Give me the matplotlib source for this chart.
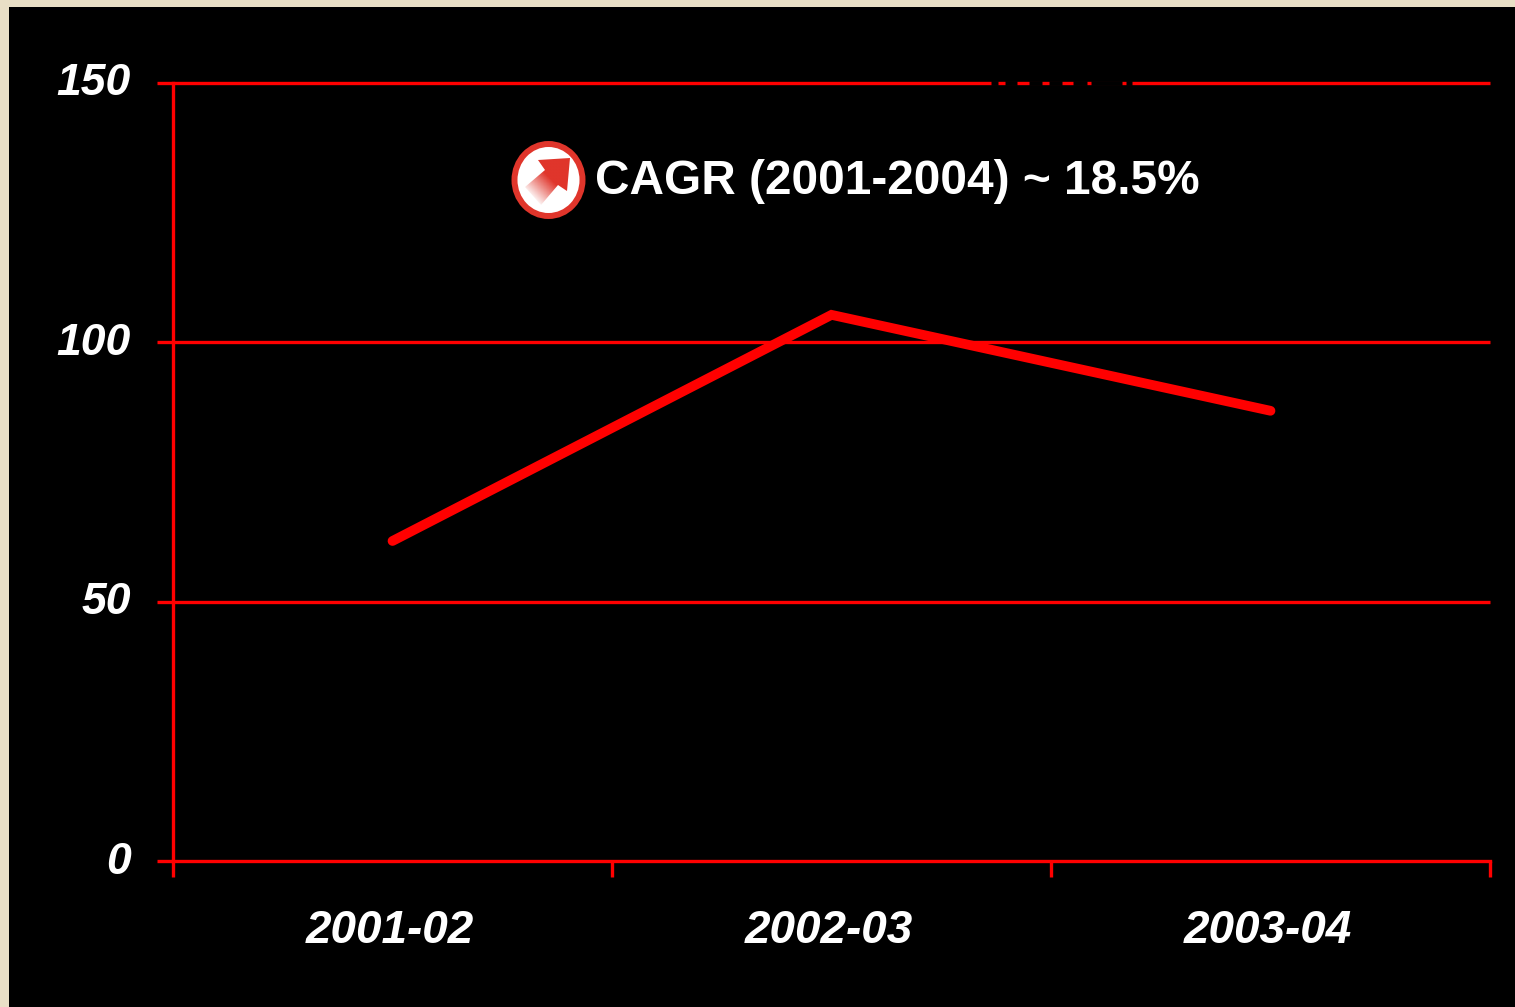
#!/usr/bin/env python3
import numpy as np
import matplotlib
matplotlib.use("Agg")
import matplotlib.pyplot as plt
from matplotlib.patches import Ellipse, Polygon, Rectangle

years = ["2001-02", "2002-03", "2003-04"]
sales = [61.7, 105.3, 86.8]
y_ticks = [0, 50, 100, 150]
note = "CAGR (2001-2004) ~ 18.5%"

W, H = 1515, 1007
RED = "#ff0000"
ICON_RED = "#e0352b"

plt.rcParams["font.family"] = ["Liberation Sans", "DejaVu Sans"]

fig = plt.figure(figsize=(W / 100, H / 100), dpi=100, facecolor="#e9dfc6")

# everything that is not the chart lives on this overlay, in image pixels
bg = fig.add_axes([0, 0, 1, 1], zorder=0)
bg.set_xlim(0, W)
bg.set_ylim(H, 0)
bg.axis("off")
bg.add_patch(Rectangle((9, 7), W - 9, H - 7, color="black", lw=0))

left, right, top, bottom = 173, 1490, 83, 861
ax = fig.add_axes([left / W, 1 - bottom / H, (right - left) / W, (bottom - top) / H], zorder=1)
ax.patch.set_alpha(0)
ax.set_xlim(0, 3)
ax.set_ylim(0, 150)

for s in ["top", "right"]:
    ax.spines[s].set_visible(False)
for s in ["left", "bottom"]:
    ax.spines[s].set_color(RED)
    ax.spines[s].set_linewidth(2.4)

ax.set_yticks(y_ticks)
ax.set_yticklabels([])
ax.set_xticks([0, 1, 2, 3])
ax.set_xticklabels([])
ax.tick_params(axis="both", color=RED, width=2.4, length=11.5)

for v in y_ticks[1:]:
    ax.plot([0, 3], [v, v], color=RED, lw=2.4, solid_capstyle="butt", zorder=1, clip_on=False)
for v in y_ticks:
    ax.annotate(str(v), (0, v), xytext=(-42, -1), textcoords="offset pixels", ha="right", va="center",
                fontsize=32, fontweight="bold", fontstyle="italic", color="white", annotation_clip=False)

x = np.arange(len(years)) + 0.5
ax.plot(x, sales, color=RED, lw=7, solid_capstyle="round", solid_joinstyle="miter", zorder=3)
for xi, name in zip(x, years):
    ax.annotate(name, (xi, 0), xytext=(-3, -70), textcoords="offset pixels", ha="center", va="center",
                fontsize=33, fontweight="bold", fontstyle="italic", color="white", annotation_clip=False)

# broken stretch of the top gridline
for x0, x1 in [(991, 998), (1005, 1017), (1029, 1042), (1049, 1062), (1073, 1087), (1091, 1122), (1126, 1132)]:
    ax.plot([(x0 - left) / (right - left) * 3, (x1 - left) / (right - left) * 3], [150, 150],
            color="black", lw=3.4, solid_capstyle="butt", zorder=2, clip_on=False)

# icon
ov = fig.add_axes([0, 0, 1, 1], zorder=2)
ov.set_xlim(0, W)
ov.set_ylim(H, 0)
ov.axis("off")
ov.add_patch(Ellipse((548.5, 180), 68, 72, fc="white", ec=ICON_RED, lw=4.3))
grad_t = np.linspace(0, 1, 80)
gx, gy = np.meshgrid(grad_t, grad_t)
ramp = np.clip(((gx + (1 - gy)) / 2 - 0.15) / 0.4, 0, 1)
rgba = np.zeros((80, 80, 4))
rgba[..., 0] = 0xe0 / 255
rgba[..., 1] = 0x35 / 255
rgba[..., 2] = 0x2b / 255
rgba[..., 3] = ramp
im = ov.imshow(rgba, extent=(524, 572, 205, 157), aspect="auto", zorder=3, interpolation="bilinear")
arrow = Polygon([(538, 160), (570, 158), (567, 191), (558, 185), (541, 205), (525, 187), (545, 170)],
                closed=True, transform=ov.transData, fc="none", ec="none")
ov.add_patch(arrow)
im.set_clip_path(arrow)
ov.set_xlim(0, W)
ov.set_ylim(H, 0)

ov.text(595, 182, note, ha="left", va="center", fontsize=34.4, fontweight="bold", color="white")

fig.savefig("out.png", dpi=100, facecolor=fig.get_facecolor())
